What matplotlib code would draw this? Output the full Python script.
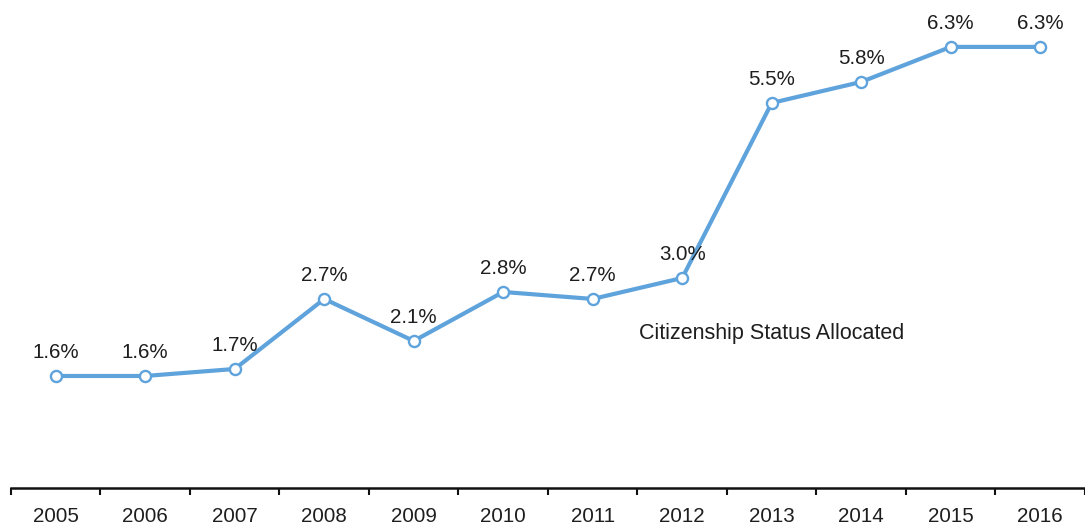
import matplotlib.pyplot as plt

years = ['2005', '2006', '2007', '2008', '2009', '2010',
         '2011', '2012', '2013', '2014', '2015', '2016']
share = [1.6, 1.6, 1.7, 2.7, 2.1, 2.8, 2.7, 3.0, 5.5, 5.8, 6.3, 6.3]
series_name = 'Citizenship Status Allocated'

plt.rcParams['font.family'] = ['Liberation Sans', 'DejaVu Sans']

fig = plt.figure(figsize=(10.85, 5.27), dpi=100)
ax = fig.add_axes([0.0101, 0.074, 0.9899, 0.926])

x = list(range(len(years)))
ax.plot(x, share, color='#5fa3dc', linewidth=3.0, marker='o', markersize=8,
        markerfacecolor='white', markeredgecolor='#5fa3dc', markeredgewidth=1.7,
        solid_capstyle='round', zorder=3)

for xi, v in zip(x, share):
    ax.annotate(f'{v:.1f}%', (xi, v), xytext=(0, 17), textcoords='offset points',
                ha='center', va='center', fontsize=14.8, color='#1e1e1e')

ax.text(8, 2.2, series_name, ha='center', va='center', fontsize=15.5, color='#1e1e1e')

ax.set_xlim(-0.5, len(years) - 0.5)
ax.set_ylim(0, 6.97)

# category labels centred, tick marks on the boundaries between years
ax.set_xticks(x)
ax.set_xticklabels(years, fontsize=14.8, color='#1e1e1e')
ax.tick_params(axis='x', which='major', length=0, pad=14)
ax.set_xticks([i - 0.5 for i in range(len(years) + 1)], minor=True)
ax.tick_params(axis='x', which='minor', length=5, width=1.5, color='#111111')

ax.set_yticks([])
for side in ['top', 'right', 'left']:
    ax.spines[side].set_visible(False)
ax.spines['bottom'].set_linewidth(1.8)
ax.spines['bottom'].set_color('#111111')

fig.savefig('out.png', dpi=100)
